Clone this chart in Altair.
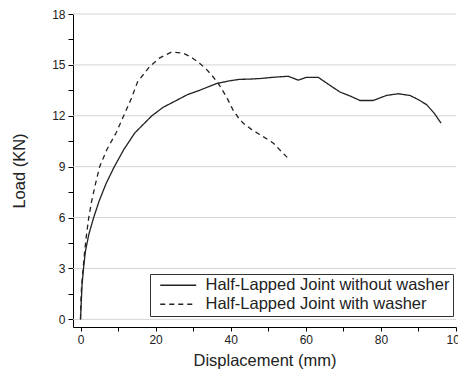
import altair as alt
import pandas as pd

# Half-Lapped Joint without washer (solid)
x_without = [0, 0.1, 0.2, 0.4, 0.8, 1.3, 2.2, 3.5, 5.0, 6.8, 9.0, 11.5, 14.5, 19.0, 22.0, 25.5,
             28.5, 31.7, 36.2, 39.7, 42.4, 45.0, 48.0, 51.3, 55.3, 58.0, 60.2, 63.3, 66.4,
             69.1, 72.0, 74.4, 77.9, 81.5, 84.6, 87.7, 90.0, 92.2, 94.2, 96.0]
y_without = [0, 0.5, 1.0, 2.0, 3.0, 4.0, 5.0, 6.0, 7.0, 8.0, 9.0, 10.0, 11.0, 12.0, 12.5, 12.9,
             13.25, 13.5, 13.9, 14.06, 14.15, 14.16, 14.2, 14.27, 14.33, 14.1, 14.27, 14.27, 13.8,
             13.4, 13.15, 12.9, 12.9, 13.2, 13.3, 13.2, 12.95, 12.65, 12.15, 11.57]

# Half-Lapped Joint with washer (dashed)
x_with = [0, 0.1, 0.3, 0.7, 1.1, 1.6, 2.2, 3.0, 4.0, 5.1, 7.0, 9.5, 11.5, 13.5, 15.2, 18.4,
          21.0, 24.2, 27.3, 29.5, 31.7, 33.5, 35.3, 37.0, 38.9, 40.6, 42.0, 43.3, 45.5, 47.7,
          51.3, 53.9, 55.5]
y_with = [0, 1.0, 2.0, 3.0, 4.0, 5.0, 6.0, 7.0, 8.0, 9.0, 10.0, 11.0, 12.0, 13.0, 14.0, 14.9,
          15.4, 15.75, 15.7, 15.45, 15.1, 14.75, 14.3, 13.8, 13.1, 12.35, 11.9, 11.57, 11.2,
          10.9, 10.4, 9.8, 9.45]

series_names = ["Half-Lapped Joint without washer", "Half-Lapped Joint with washer"]
grid_values = [0.0, 3.0, 6.0, 9.0, 12.0, 15.0, 18.0]
x_tick_values = list(range(0, 101, 10))
y_tick_values = [v * 1.5 for v in range(0, 13)]

rows = []
for i, (x, y) in enumerate(zip(x_without, y_without)):
    rows.append({"disp": x, "load": y, "series": series_names[0], "idx": i})
for i, (x, y) in enumerate(zip(x_with, y_with)):
    rows.append({"disp": x, "load": y, "series": series_names[1], "idx": i})
df = pd.DataFrame(rows)
grid_df = pd.DataFrame({"load": grid_values})

FONT = "Liberation Sans"
W, H = 383, 313

x_axis = alt.Axis(
    values=x_tick_values,
    labelExpr="datum.value % 20 === 0 ? datum.label : ''",
    tickSize=4, grid=False, domainColor="black", tickColor="black", labelColor="#222",
    labelFontSize=12, labelFont=FONT, titleFont=FONT, titleFontSize=16.5,
    titleFontWeight="normal", titleColor="#222", titlePadding=7, labelPadding=3,
    labelFlush=False,
)
y_axis = alt.Axis(
    values=y_tick_values,
    labelExpr="datum.value % 3 === 0 ? datum.label : ''",
    tickSize=5, grid=False, domainColor="black", tickColor="black",
    labelColor="#222", labelFontSize=12, labelFont=FONT, titleFont=FONT,
    titleFontSize=16.5, titleFontWeight="normal", titleColor="#222", titlePadding=24,
    labelPadding=3,
)

x_scale = alt.Scale(domain=[-2, 100], nice=False, zero=False)
y_scale = alt.Scale(domain=[-0.45, 18], nice=False, zero=False)

grid = alt.Chart(grid_df).mark_rule(color="#d4d4d4", strokeWidth=1).encode(
    y=alt.Y("load:Q", scale=y_scale, axis=y_axis, title="Load (KN)"),
    x=alt.value(0),
    x2=alt.value(W),
)

lines = alt.Chart(df).mark_line(color="#222", strokeWidth=1.3).encode(
    x=alt.X("disp:Q", title="Displacement (mm)", scale=x_scale, axis=x_axis),
    y=alt.Y("load:Q", title="Load (KN)", scale=y_scale, axis=y_axis),
    strokeDash=alt.StrokeDash(
        "series:N",
        scale=alt.Scale(domain=series_names, range=[[1, 0], [5, 4]]),
        legend=alt.Legend(
            title=None, orient="none", legendX=77, legendY=260,
            strokeColor="#333", fillColor="white", padding=3,
            symbolType="M-1,0H5", symbolSize=144, symbolOffset=5,
            symbolStrokeColor="#222", symbolStrokeWidth=1.3,
            labelFontSize=16.5, labelFont=FONT, labelColor="#222",
            labelLimit=400, labelOffset=31, rowPadding=2,
        ),
    ),
    order="idx:Q",
)

chart = alt.layer(grid, lines).properties(
    width=W, height=H,
    autosize=alt.AutoSizeParams(type="none"),
    padding={"left": 65, "top": 6, "right": 2, "bottom": 46},
).configure_view(stroke=None)

chart.save("out.html", embed_options={"renderer": "svg", "actions": False})
